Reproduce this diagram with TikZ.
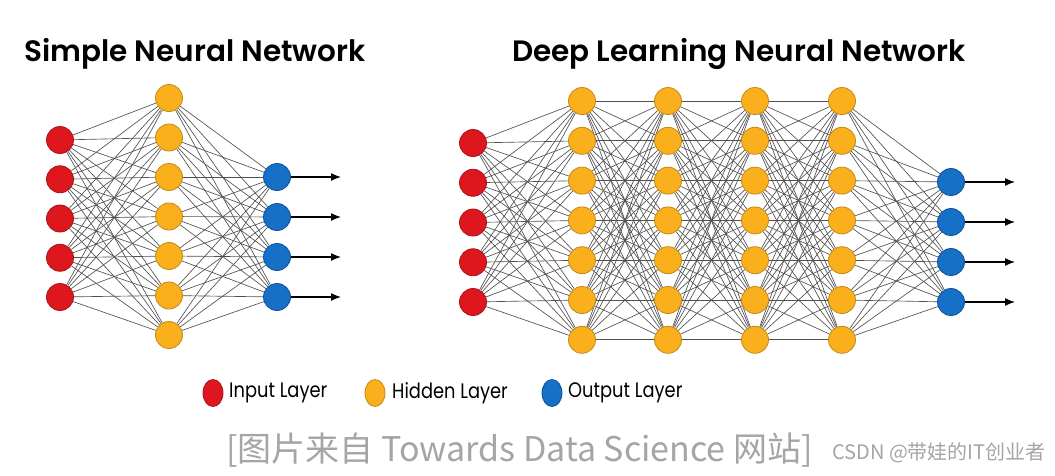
\documentclass[tikz,border=0pt]{standalone}
\usepackage{fontspec}
\setmainfont{Poppins}[BoldFont={Poppins SemiBold}]
\newfontfamily\legendfont[FakeStretch=0.85]{Poppins}
\newfontfamily\markfont{Noto Sans CJK SC}
\usetikzlibrary{
  arrows.meta,
  shapes.geometric,
  backgrounds
}
\definecolor{InRed}{RGB}{222,22,30}
\definecolor{InRedEdge}{RGB}{165,20,25}
\definecolor{HidOrange}{RGB}{250,176,28}
\definecolor{HidOrangeEdge}{RGB}{196,136,20}
\definecolor{OutBlue}{RGB}{22,112,200}
\definecolor{OutBlueEdge}{RGB}{15,80,150}
\definecolor{LinkGray}{RGB}{80,80,80}
\definecolor{MarkGray}{RGB}{165,165,165}
\tikzset{
  neuron/.style={
    circle,
    minimum size=27pt,
    inner sep=0pt,
    line width=0.8pt
  },
  inneuron/.style={neuron,fill=InRed,draw=InRedEdge},
  hidneuron/.style={neuron,fill=HidOrange,draw=HidOrangeEdge},
  outneuron/.style={neuron,fill=OutBlue,draw=OutBlueEdge},
  keydot/.style={ellipse,minimum width=20pt,minimum height=27pt,inner sep=0pt,line width=0.8pt},
  link/.style={draw=LinkGray,line width=0.65pt},
  outarrow/.style={-{Latex[length=10pt,width=8pt]},line width=1.3pt,draw=black},
  title/.style={font=\bfseries\fontsize{29.5}{33}\selectfont},
  keytext/.style={anchor=west,inner sep=0pt,font=\legendfont\fontsize{21}{24}\selectfont}
}

\begin{document}
\begin{tikzpicture}[x=1pt,y=-1pt]
  \useasboundingbox (0,0) rectangle (1055,475);

  % titles
  \node[title] (stitle) at (195,54) {Simple Neural Network};
  \node[title] (dtitle) at (739,54) {Deep Learning Neural Network};

  % simple network
  \foreach \i in {1,...,5}
    \node[inneuron] (s-in-\i) at (60,{140+39.25*(\i-1)}) {};
  \foreach \j in {1,...,7}
    \node[hidneuron] (s-h-\j) at (169,{98+39.5*(\j-1)}) {};
  \foreach \k in {1,...,4} {
    \node[outneuron] (s-out-\k) at (277,{177+40*(\k-1)}) {};
    \coordinate (s-end-\k) at (341,{177+40*(\k-1)});
  }

  % deep network
  \foreach \i in {1,...,5}
    \node[inneuron] (d-in-\i) at (473,{143+39.75*(\i-1)}) {};
  \foreach \x [count=\l] in {582,668,755,842}
    \foreach \j in {1,...,7}
      \node[hidneuron] (d-h\l-\j) at (\x,{101+39.8*(\j-1)}) {};
  \foreach \k in {1,...,4} {
    \node[outneuron] (d-out-\k) at (951,{182+40*(\k-1)}) {};
    \coordinate (d-end-\k) at (1015,{182+40*(\k-1)});
  }

  % connections
  \begin{scope}[on background layer]
    \fill[white] (0,0) rectangle (1055,475);
    \foreach \i in {1,...,5}
      \foreach \j in {1,...,7} {
        \draw[link] (s-in-\i) -- (s-h-\j);
        \draw[link] (d-in-\i) -- (d-h1-\j);
      }
    \foreach \j in {1,...,7}
      \foreach \k in {1,...,4} {
        \draw[link] (s-h-\j) -- (s-out-\k);
        \draw[link] (d-h4-\j) -- (d-out-\k);
      }
    \foreach \l in {1,2,3} {
      \pgfmathtruncatemacro{\m}{\l+1}
      \foreach \j in {1,...,7}
        \foreach \jj in {1,...,7}
          \draw[link] (d-h\l-\j) -- (d-h\m-\jj);
    }
  \end{scope}
  \foreach \k in {1,...,4} {
    \draw[outarrow] (s-out-\k) -- (s-end-\k);
    \draw[outarrow] (d-out-\k) -- (d-end-\k);
  }

  % legend
  \node[keydot,fill=InRed,draw=InRedEdge] (key-in) at (213,393) {};
  \node[keytext] (key-in-text) at (229,393) {Input Layer};
  \node[keydot,fill=HidOrange,draw=HidOrangeEdge] (key-hid) at (375,393) {};
  \node[keytext] (key-hid-text) at (392,393) {Hidden Layer};
  \node[keydot,fill=OutBlue,draw=OutBlueEdge] (key-out) at (552,393) {};
  \node[keytext] (key-out-text) at (568,393) {Output Layer};

  % source note
  \node[anchor=west,inner sep=0pt,text=MarkGray,font=\markfont\fontsize{34}{38}\selectfont] (source) at (226,450) {[图片来自 Towards Data Science 网站]};
  \node[anchor=west,inner sep=0pt,text=MarkGray,font=\markfont\fontsize{20}{24}\selectfont] (credit) at (832,453) {CSDN @带娃的IT创业者};
\end{tikzpicture}
\end{document}
